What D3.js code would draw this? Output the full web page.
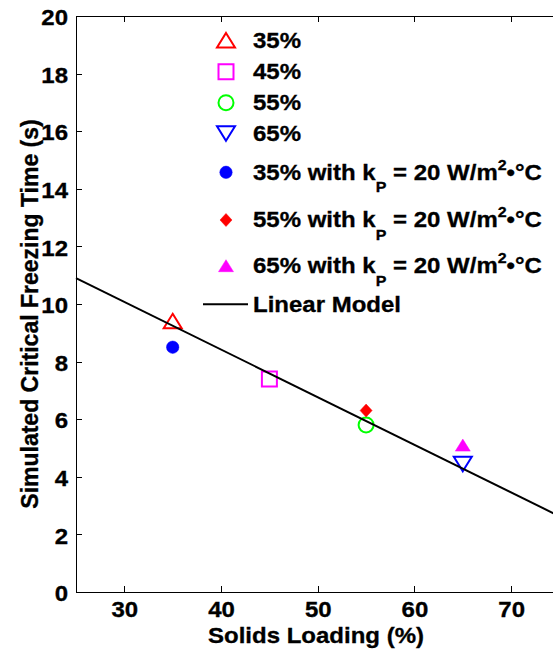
<!DOCTYPE html>
<html><head><meta charset="utf-8">
<script src="https://cdn.jsdelivr.net/npm/d3@7"></script>
<style>
body{margin:0;background:#fff}
svg{display:block}
text{font-family:Arial,"Liberation Sans",sans-serif;font-weight:bold;fill:#000;stroke:#000;stroke-width:0.35px}
</style></head><body>
<script>
// ---- data ----
const solidsLoading = [35, 45, 55, 65];
const freezeTime = [9.4, 7.4, 5.8, 4.45];
const kpSolids = [35, 55, 65];
const kpFreezeTime = [8.5, 6.3, 5.1];
const modelX = [25, 75];
const modelY = [10.9, 2.63];
const xTicks = [30, 40, 50, 60, 70];
const yTicks = [0, 2, 4, 6, 8, 10, 12, 14, 16, 18, 20];
const legendLabels = ["35%", "45%", "55%", "65%",
  "35% with kP = 20 W/m2•°C", "55% with kP = 20 W/m2•°C", "65% with kP = 20 W/m2•°C", "Linear Model"];

const W = 553, H = 652;
const plotLeft = 76, plotTop = 16, plotRight = 559.5, plotBottom = 592;
const FS = 24, SQ = 0.9;

const svg = d3.select("body").append("svg").attr("width", W).attr("height", H);

const x = d3.scaleLinear().domain([25, 75]).range([plotLeft, plotRight]);
const y = d3.scaleLinear().domain([0, 20]).range([plotBottom, plotTop]);

// squeeze text vertically about its baseline b
function squeeze(sel, b) {
  sel.attr("transform", `translate(0,${b}) scale(1,${SQ}) translate(0,${-b})`);
}

// marker definitions (shape, colour, filled)
const markerStyles = [
  {shape: "triUp", color: "#ff0000", fill: false},
  {shape: "square", color: "#ff00ff", fill: false},
  {shape: "circle", color: "#00ff00", fill: false},
  {shape: "triDown", color: "#0000ff", fill: false},
  {shape: "dot", color: "#0000ff", fill: true},
  {shape: "diamond", color: "#ff0000", fill: true},
  {shape: "triUpSmall", color: "#ff00ff", fill: true}
];
function markerPath(shape) {
  switch (shape) {
    case "triUp": return "M0,-7.5L9,7L-9,7Z";
    case "triDown": return "M0,7.5L9,-7L-9,-7Z";
    case "triUpSmall": return "M0,-6L7.5,6L-7.5,6Z";
    case "square": return "M-7.5,-7.5H7.5V7.5H-7.5Z";
    case "circle": return d3.symbol().type(d3.symbolCircle).size(Math.PI * 7.5 * 7.5)();
    case "dot": return d3.symbol().type(d3.symbolCircle).size(Math.PI * 6.2 * 6.2)();
    case "diamond": return "M0,-6.5L6,0L0,6.5L-6,0Z";
  }
}
function drawMarker(g, st, cx, cy) {
  g.append("path").attr("d", markerPath(st.shape))
    .attr("transform", `translate(${cx},${cy})`)
    .attr("fill", st.fill ? st.color : "none")
    .attr("stroke", st.color)
    .attr("stroke-width", st.fill ? 0.5 : 2);
}

// ---- axes ----
const axG = svg.append("g").attr("shape-rendering", "crispEdges");
const xAxis = d3.axisBottom(x).tickValues(xTicks).tickSizeInner(-6).tickSizeOuter(0).tickPadding(10);
const yAxis = d3.axisLeft(y).tickValues(yTicks).tickSizeInner(-6).tickSizeOuter(0).tickPadding(8);
const xTop = d3.axisTop(x).tickValues(xTicks).tickSizeInner(-6).tickSizeOuter(0).tickFormat("");
const yRight = d3.axisRight(y).tickValues(yTicks).tickSizeInner(-6).tickSizeOuter(0).tickFormat("");

function styleAxis(g) {
  g.selectAll("path.domain").attr("stroke", "#000").attr("stroke-width", 1);
  g.selectAll(".tick line").attr("stroke", "#000").attr("stroke-width", 1);
  g.selectAll("text").attr("font-size", FS).attr("font-family", 'Arial,"Liberation Sans",sans-serif').attr("font-weight", "bold").attr("fill", "#000");
}
const gx = axG.append("g").attr("transform", `translate(0,${plotBottom})`).call(xAxis).call(styleAxis);
gx.selectAll("text").attr("y", 24.7).attr("dy", 0).call(squeeze, 24.7);
const gy = axG.append("g").attr("transform", `translate(${plotLeft},0)`).call(yAxis).call(styleAxis);
gy.selectAll("text").attr("y", 8.7).attr("dy", 0).call(squeeze, 8.7);
axG.append("g").attr("transform", `translate(0,${plotTop})`).call(xTop).call(styleAxis);
axG.append("g").attr("transform", `translate(${plotRight},0)`).call(yRight).call(styleAxis);
axG.selectAll("text").attr("shape-rendering", "auto");

// axis titles
svg.append("text").attr("x", 316).attr("y", 643.3)
  .attr("text-anchor", "middle").attr("font-size", FS).call(squeeze, 643.3).text("Solids Loading (%)");
svg.append("text").attr("transform", `translate(38,314) rotate(-90)`)
  .attr("text-anchor", "middle").attr("font-size", 23).text("Simulated Critical Freezing Time (s)");

// ---- data marks ----
const marks = svg.append("g");
solidsLoading.forEach((s, i) => drawMarker(marks, markerStyles[i], x(s), y(freezeTime[i])));
kpSolids.forEach((s, i) => drawMarker(marks, markerStyles[4 + i], x(s), y(kpFreezeTime[i])));

const line = d3.line().x(d => x(d[0])).y(d => y(d[1]));
svg.append("path").datum(modelX.map((v, i) => [v, modelY[i]]))
  .attr("d", line).attr("fill", "none").attr("stroke", "#000").attr("stroke-width", 2);

// ---- legend ----
const legendRowY = [40.5, 71.7, 102.7, 133.3, 172.3, 220, 265.7, 304.3];
const lg = svg.append("g");
const mx = 226, tx = 253;
legendLabels.forEach((lab, i) => {
  const cy = legendRowY[i];
  if (i < 7) drawMarker(lg, markerStyles[i], mx, cy);
  else lg.append("line").attr("x1", 203).attr("x2", 248).attr("y1", cy).attr("y2", cy)
    .attr("stroke", "#000").attr("stroke-width", 2);
  const b = cy + 7.3;
  const t = lg.append("text").attr("x", tx).attr("y", b).attr("font-size", FS).call(squeeze, b);
  const m = lab.match(/^(.*k)P( = 20 W\/m)2(.*)$/);
  if (m) {
    t.append("tspan").text(m[1]);
    t.append("tspan").attr("font-size", 16).attr("dy", 14).text("P");
    t.append("tspan").attr("dy", -14).text(m[2]);
    t.append("tspan").attr("font-size", 16).attr("dy", -11).text("2");
    t.append("tspan").attr("dy", 11).text(m[3]);
  } else {
    t.text(lab);
  }
});
</script>
</body></html>
